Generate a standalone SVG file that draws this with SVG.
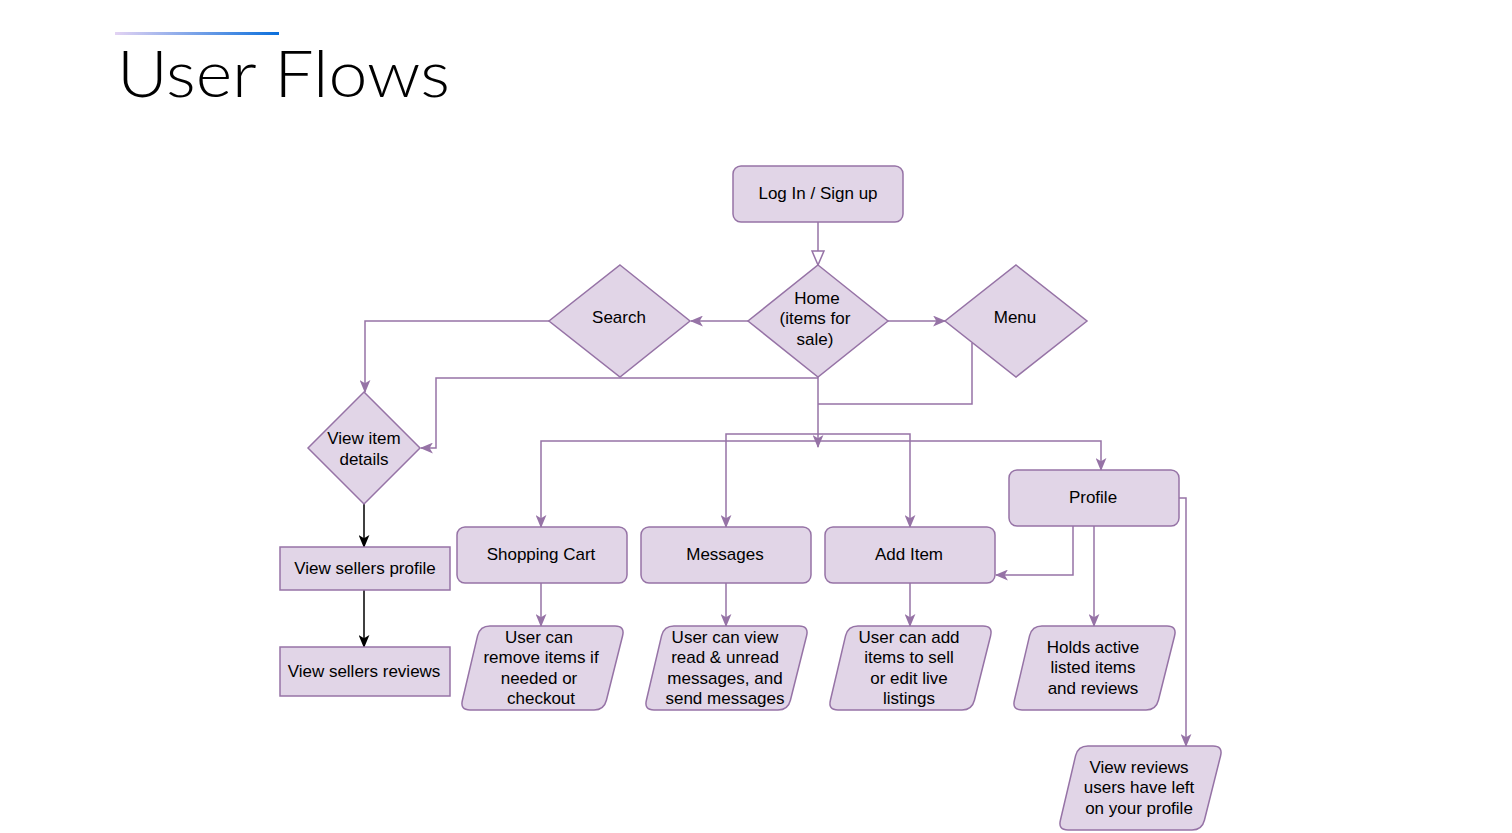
<svg xmlns="http://www.w3.org/2000/svg" xmlns:xlink="http://www.w3.org/1999/xlink" width="1512" height="833" viewBox="0 0 1512 833">
<style>
.n{fill:#e1d5e7;stroke:#9673a6;stroke-width:1.5}
.t{font-family:"Liberation Sans",Arial,sans-serif;font-size:17px;fill:#000;text-anchor:middle}
.c{fill:none;stroke:#9673a6;stroke-width:1.5}
.k{fill:none;stroke:#000;stroke-width:1.5}
</style>
<defs>
<linearGradient id="g" x1="0" y1="0" x2="1" y2="0">
<stop offset="0" stop-color="#e3d3f3"/>
<stop offset="1" stop-color="#0a6fdc"/>
</linearGradient>
<marker id="a" viewBox="0 0 12 10" refX="11" refY="5" markerWidth="13" markerHeight="11" markerUnits="userSpaceOnUse" orient="auto">
<path d="M0,0 L12,5 L0,10 L3,5 Z" fill="#9673a6"/>
</marker>
<marker id="b" viewBox="0 0 12 10" refX="11" refY="5" markerWidth="13" markerHeight="11" markerUnits="userSpaceOnUse" orient="auto">
<path d="M0,0 L12,5 L0,10 L3,5 Z" fill="#000"/>
</marker>
<marker id="h" viewBox="0 0 16 14" refX="15" refY="7" markerWidth="16" markerHeight="14" markerUnits="userSpaceOnUse" orient="auto">
<path d="M1,1 L15,7 L1,13 Z" fill="#fff" stroke="#9673a6" stroke-width="1.5"/>
</marker>
<path id="para" d="M30,0 H155 Q165,0 162.6,9.7 L146.4,74.3 Q144,84 134,84 H10 Q0,84 2.4,74.3 L17.6,9.7 Q20,0 30,0 Z"/>
</defs>

<rect x="115" y="32" width="164" height="3" fill="url(#g)"/>
<text x="117" y="97" font-family="Lato,'Open Sans',sans-serif" font-weight="300" font-size="66" textLength="333" lengthAdjust="spacingAndGlyphs" fill="#000">User Flows</text>

<g id="connectors">
<path class="c" d="M818,222 V265" marker-end="url(#h)"/>
<path class="c" d="M748,321 H691" marker-end="url(#a)"/>
<path class="c" d="M888,321 H945" marker-end="url(#a)"/>
<path class="c" d="M549,321 H365 V392" marker-end="url(#a)"/>
<path class="c" d="M818,378 H436 V448 H421" marker-end="url(#a)"/>
<path class="c" d="M818,377 V447" marker-end="url(#a)"/>
<path class="c" d="M972,343 V404 H818"/>
<path class="c" d="M818,441 H541 V527" marker-end="url(#a)"/>
<path class="c" d="M818,441 H1101 V470" marker-end="url(#a)"/>
<path class="c" d="M818,434 H726 V527" marker-end="url(#a)"/>
<path class="c" d="M818,434 H910 V527" marker-end="url(#a)"/>
<path class="k" d="M364,504 V547" marker-end="url(#b)"/>
<path class="k" d="M364,590 V647" marker-end="url(#b)"/>
<path class="c" d="M541,583 V626" marker-end="url(#a)"/>
<path class="c" d="M726,583 V626" marker-end="url(#a)"/>
<path class="c" d="M910,583 V626" marker-end="url(#a)"/>
<path class="c" d="M1094,526 V626" marker-end="url(#a)"/>
<path class="c" d="M1073,526 V575 H996" marker-end="url(#a)"/>
<path class="c" d="M1179,498 H1186 V746" marker-end="url(#a)"/>
</g>

<g id="login">
<rect class="n" x="733" y="166" width="170" height="56" rx="8"/>
<text class="t" x="818" y="199">Log In / Sign up</text>
</g>
<g id="home">
<path class="n" d="M818,265 L888,321 L818,377 L748,321 Z"/>
<text class="t" x="817" y="304">Home</text>
<text class="t" x="815" y="324">(items for</text>
<text class="t" x="815" y="345">sale)</text>
</g>
<g id="search">
<path class="n" d="M620,265 L690,321 L620,377 L549,321 Z"/>
<text class="t" x="619" y="323">Search</text>
</g>
<g id="menu">
<path class="n" d="M1016,265 L1087,321 L1016,377 L945,321 Z"/>
<text class="t" x="1015" y="323">Menu</text>
</g>
<g id="viewitem">
<path class="n" d="M364,392 L420,448 L364,504 L308,448 Z"/>
<text class="t" x="364" y="444">View item</text>
<text class="t" x="364" y="465">details</text>
</g>
<g id="sellerprofile">
<rect class="n" x="280" y="547" width="170" height="43"/>
<text class="t" x="365" y="574">View sellers profile</text>
</g>
<g id="sellerreviews">
<rect class="n" x="280" y="647" width="170" height="49"/>
<text class="t" x="364" y="677">View sellers reviews</text>
</g>
<g id="cart">
<rect class="n" x="457" y="527" width="170" height="56" rx="8"/>
<text class="t" x="541" y="560">Shopping Cart</text>
</g>
<g id="messages">
<rect class="n" x="641" y="527" width="170" height="56" rx="8"/>
<text class="t" x="725" y="560">Messages</text>
</g>
<g id="additem">
<rect class="n" x="825" y="527" width="170" height="56" rx="8"/>
<text class="t" x="909" y="560">Add Item</text>
</g>
<g id="profile">
<rect class="n" x="1009" y="470" width="170" height="56" rx="8"/>
<text class="t" x="1093" y="503">Profile</text>
</g>
<g id="cartnote">
<use xlink:href="#para" href="#para" class="n" x="460" y="626"/>
<text class="t" x="539" y="643">User can</text>
<text class="t" x="541" y="663">remove items if</text>
<text class="t" x="539" y="684">needed or</text>
<text class="t" x="541" y="704">checkout</text>
</g>
<g id="messagesnote">
<use xlink:href="#para" href="#para" class="n" x="644" y="626"/>
<text class="t" x="725" y="643">User can view</text>
<text class="t" x="725" y="663">read &amp; unread</text>
<text class="t" x="725" y="684">messages, and</text>
<text class="t" x="725" y="704">send messages</text>
</g>
<g id="additemnote">
<use xlink:href="#para" href="#para" class="n" x="828" y="626"/>
<text class="t" x="909" y="643">User can add</text>
<text class="t" x="909" y="663">items to sell</text>
<text class="t" x="909" y="684">or edit live</text>
<text class="t" x="909" y="704">listings</text>
</g>
<g id="profilenote">
<use xlink:href="#para" href="#para" class="n" x="1012" y="626"/>
<text class="t" x="1093" y="653">Holds active</text>
<text class="t" x="1093" y="673">listed items</text>
<text class="t" x="1093" y="694">and reviews</text>
</g>
<g id="reviewsnote">
<use xlink:href="#para" href="#para" class="n" x="1058" y="746"/>
<text class="t" x="1139" y="773">View reviews</text>
<text class="t" x="1139" y="793">users have left</text>
<text class="t" x="1139" y="814">on your profile</text>
</g>
</svg>
